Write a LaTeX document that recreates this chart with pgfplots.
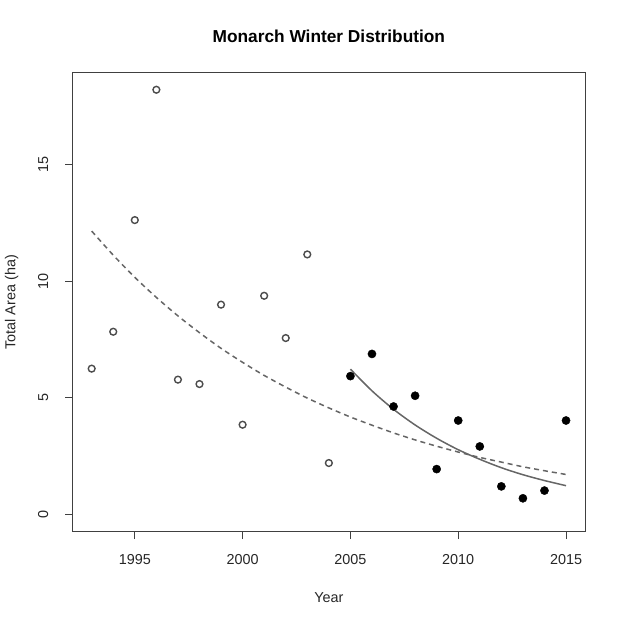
\documentclass[border=0pt]{standalone}
\usepackage{pgfplots}
\pgfplotsset{compat=1.18}
\usepackage{fontspec}
\setmainfont{Liberation Sans}

% yearly wintering area, open = before 2005, filled = 2005 on
\pgfplotstableread{
year area
1993 6.25
1994 7.83
1995 12.61
1996 18.19
1997 5.78
1998 5.59
1999 8.99
2000 3.85
2001 9.37
2002 7.56
2003 11.14
2004 2.21
}\early
\pgfplotstableread{
year area
2005 5.93
2006 6.88
2007 4.63
2008 5.09
2009 1.95
2010 4.03
2011 2.92
2012 1.21
2013 0.70
2014 1.03
2015 4.03
}\late

\begin{document}
\begin{tikzpicture}
\useasboundingbox (0,0) rectangle (623pt,623pt);
\begin{axis}[
  at={(72.7pt,91.3pt)}, anchor=south west,
  scale only axis, width=512.3pt, height=459pt,
  xmin=1992.12, xmax=2015.88,
  ymin=-0.73, ymax=18.92,
  xtick={1995,2000,2005,2010,2015},
  ytick={0,5,10,15},
  xtick pos=lower, ytick pos=left,
  tick align=outside,
  major tick length=7.5pt,
  every tick/.style={black!75, line width=0.8pt},
  axis line style={black!75, line width=0.8pt},
  /pgf/number format/assume math mode=true,
  /pgf/number format/1000 sep={},
  tick label style={font=\fontsize{14.4}{16}\selectfont, text=black!85},
  xticklabel style={anchor=center, yshift=-20.5pt},
  yticklabel style={anchor=center, rotate=90, yshift=22pt},
  title={Monarch Winter Distribution},
  every axis title/.style={at={(axis description cs:0.5,1.0784)}, anchor=center,
    font=\bfseries\fontsize{17.3}{20}\selectfont},
  xlabel={Year},
  ylabel={Total Area (ha)},
  every axis x label/.style={at={(axis description cs:0.5,-0.1438)}, anchor=center,
    font=\fontsize{14.4}{16}\selectfont, text=black!85},
  every axis y label/.style={at={(axis description cs:-0.1191,0.5)}, anchor=center, rotate=90,
    font=\fontsize{14.4}{16}\selectfont, text=black!85},
  clip=false,
]
% overall trend, dashed
\addplot[black!60, line width=1.5pt, dash pattern=on 5pt off 4pt, smooth] coordinates {
  (1993,12.14)(1994,11.11)(1995,10.16)(1996,9.30)(1997,8.51)(1998,7.79)
  (1999,7.12)(2000,6.52)(2001,5.96)(2002,5.46)(2003,4.99)(2004,4.57)
  (2005,4.18)(2006,3.83)(2007,3.50)(2008,3.20)(2009,2.93)(2010,2.68)
  (2011,2.45)(2012,2.25)(2013,2.05)(2014,1.88)(2015,1.72)
};
% recent trend, solid
\addplot[black!60, line width=1.5pt, smooth] coordinates {
  (2005,6.23)(2006,5.30)(2007,4.51)(2008,3.84)(2009,3.27)(2010,2.78)
  (2011,2.37)(2012,2.01)(2013,1.71)(2014,1.46)(2015,1.24)
};
\addplot[only marks, mark=o, mark size=3.4pt, black!70,
  mark options={line width=1.4pt}] table[x=year,y=area] {\early};
\addplot[only marks, mark=*, mark size=4.1pt, black] table[x=year,y=area] {\late};
\end{axis}
\end{tikzpicture}
\end{document}
